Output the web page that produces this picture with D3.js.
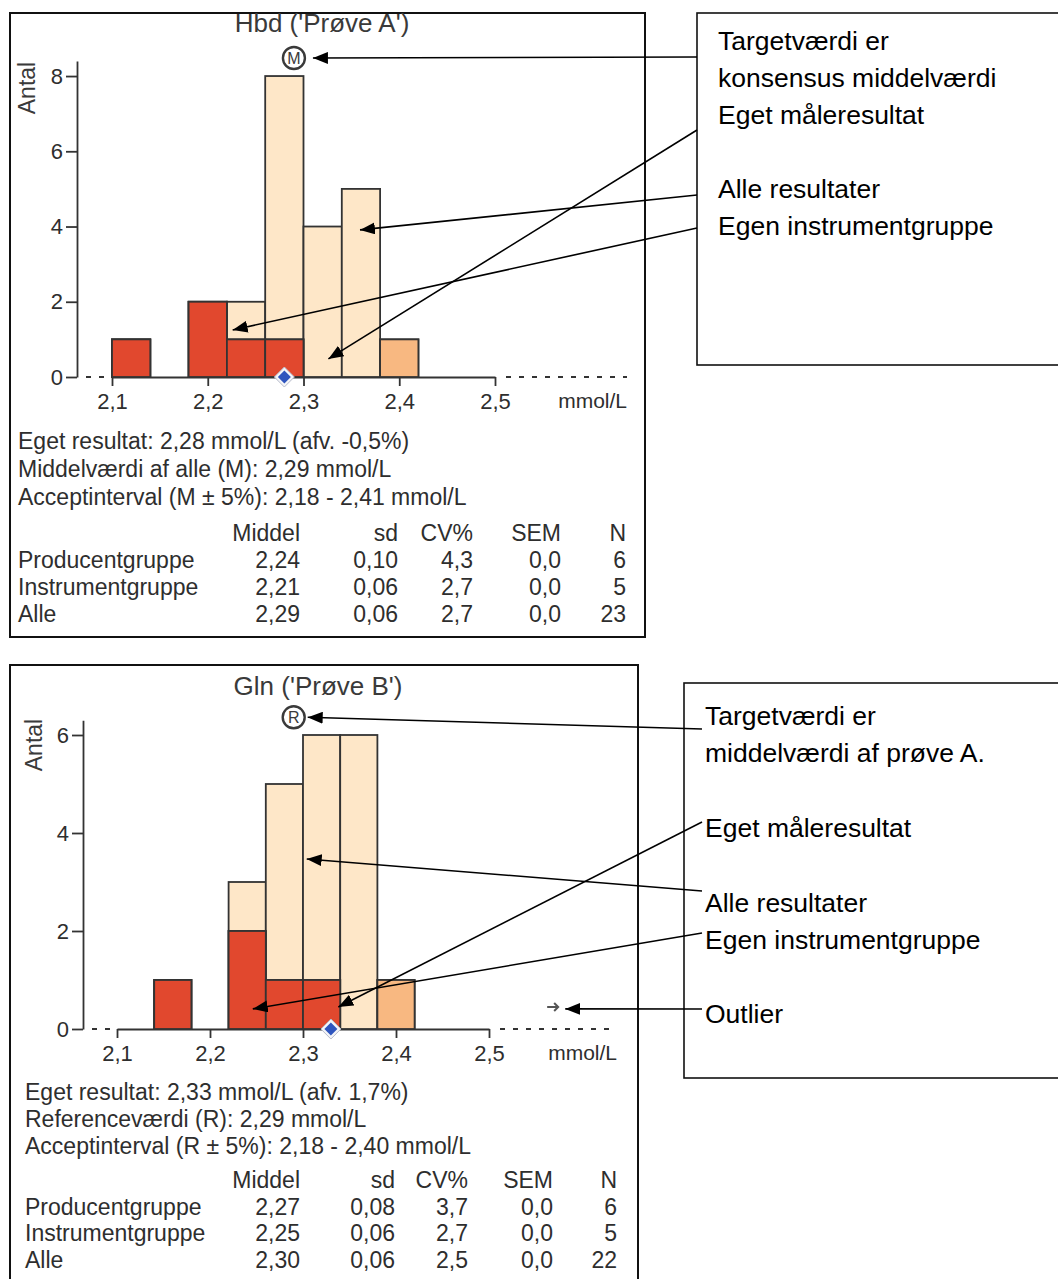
<!DOCTYPE html>
<html>
<head>
<meta charset="utf-8">
<script src="https://cdn.jsdelivr.net/npm/d3@7"></script>
<style>
  body { margin: 0; background: #fff; }
  svg text { font-family: "Liberation Sans", Arial, sans-serif; }
</style>
</head>
<body>
<div id="chart"></div>
<script>
const binWidth = 0.04;
const xTicks = [2.1, 2.2, 2.3, 2.4, 2.5];
const statHeader = ["Middel", "sd", "CV%", "SEM", "N"];
const statGroups = ["Producentgruppe", "Instrumentgruppe", "Alle"];

// Prøve A
const binsA = [2.10, 2.18, 2.22, 2.26, 2.30, 2.34, 2.38];
const allA = [1, 2, 2, 8, 4, 5, 1];
const producerA = [1, 2, 1, 1, 0, 0, 1];
const instrumentA = [1, 2, 1, 1, 0, 0, 0];
const yTicksA = [0, 2, 4, 6, 8];
const ownA = 2.28;
const targetA = 2.29;
const infoA = [
  "Eget resultat: 2,28 mmol/L (afv. -0,5%)",
  "Middelværdi af alle (M): 2,29 mmol/L",
  "Acceptinterval (M ± 5%): 2,18 - 2,41 mmol/L"
];
const meanA = [2.24, 2.21, 2.29];
const sdA = [0.10, 0.06, 0.06];
const cvA = [4.3, 2.7, 2.7];
const semA = [0.0, 0.0, 0.0];
const nA = [6, 5, 23];
const legendA = ["Targetværdi er", "konsensus middelværdi", "Eget måleresultat", "", "Alle resultater", "Egen instrumentgruppe"];
// arrow tips in data units (x = mmol/L, y = antal)
const tipsA = [[targetA, 8.4], [2.326, 0.48], [2.359, 3.91], [2.226, 1.25]];

// Prøve B
const binsB = [2.14, 2.22, 2.26, 2.30, 2.34, 2.38];
const allB = [1, 3, 5, 6, 6, 1];
const producerB = [1, 2, 1, 1, 0, 1];
const instrumentB = [1, 2, 1, 1, 0, 0];
const yTicksB = [0, 2, 4, 6];
const ownB = 2.33;
const targetB = 2.29;
const outlierB = [2.569, 0.45];
const infoB = [
  "Eget resultat: 2,33 mmol/L (afv. 1,7%)",
  "Referenceværdi (R): 2,29 mmol/L",
  "Acceptinterval (R ± 5%): 2,18 - 2,40 mmol/L"
];
const meanB = [2.27, 2.25, 2.30];
const sdB = [0.08, 0.06, 0.06];
const cvB = [3.7, 2.7, 2.5];
const semB = [0.0, 0.0, 0.0];
const nB = [6, 5, 22];
const legendB = ["Targetværdi er", "middelværdi af prøve A.", "", "Eget måleresultat", "", "Alle resultater", "Egen instrumentgruppe", "", "Outlier"];
const tipsB = [[targetB, 6.3], [2.338, 0.45], [2.304, 3.47], [2.246, 0.41], [2.582, 0.41]];

const colAll = "#fee7c8", colProducer = "#f8b881", colInstrument = "#e1482e";
const ink = "#333";
const textCol = "#2e2e2e";
const comma = (f) => (d) => d3.format(f)(d).replace(".", ",");

const svg = d3.select("#chart").append("svg")
  .attr("width", 1058)
  .attr("height", 1279);

svg.append("defs").append("marker")
  .attr("id", "head")
  .attr("markerUnits", "userSpaceOnUse")
  .attr("markerWidth", 15).attr("markerHeight", 12)
  .attr("refX", 15).attr("refY", 6)
  .attr("orient", "auto")
  .append("path").attr("d", "M0,0 L15,6 L0,12 z").attr("fill", "#000");

function drawPanel(p) {
  const g = svg.append("g");

  g.append("rect")
    .attr("x", p.box[0]).attr("y", p.box[1])
    .attr("width", p.box[2] - p.box[0]).attr("height", p.box[3] - p.box[1])
    .attr("fill", "none").attr("stroke", "#111").attr("stroke-width", 2);

  const x = d3.scaleLinear().domain([2.1, 2.5]).range(p.xRange);
  const yMax = d3.max(p.all) * 1.05;
  const y = d3.scaleLinear().domain([0, yMax]).range([p.y0, p.yTop]);

  g.append("text")
    .attr("x", p.titleX).attr("y", p.titleY)
    .attr("text-anchor", "middle")
    .attr("font-size", 26).attr("fill", "#3a3a3a")
    .text(p.title);

  g.append("text")
    .attr("transform", `translate(${p.antalX},${p.antalY}) rotate(-90)`)
    .attr("text-anchor", "middle")
    .attr("font-size", 23).attr("fill", "#3a3a3a")
    .text("Antal");

  // axes
  const yAxis = g.append("g")
    .attr("transform", `translate(${p.yAxisX},0)`)
    .call(d3.axisLeft(y).tickValues(p.yTicks).tickSize(11).tickSizeOuter(0).tickPadding(3)
      .tickFormat(d3.format("d")));
  const xAxis = g.append("g")
    .attr("transform", `translate(0,${p.y0})`)
    .call(d3.axisBottom(x).tickValues(xTicks).tickSize(9).tickSizeOuter(0).tickPadding(7)
      .tickFormat(comma(".1f")));
  [yAxis, xAxis].forEach(a => {
    a.attr("font-family", null).attr("font-size", null);
    a.selectAll("path, line").attr("stroke", ink).attr("stroke-width", 1.8);
    a.selectAll("text").attr("font-size", 22).attr("fill", textCol);
  });

  // dashed continuation of the baseline
  g.append("line")
    .attr("x1", p.yAxisX + 9).attr("x2", x(2.1))
    .attr("y1", p.y0).attr("y2", p.y0)
    .attr("stroke", ink).attr("stroke-width", 1.8).attr("stroke-dasharray", "5,8");
  g.append("line")
    .attr("x1", x(2.5) + 11).attr("x2", p.dashEnd)
    .attr("y1", p.y0).attr("y2", p.y0)
    .attr("stroke", ink).attr("stroke-width", 1.8).attr("stroke-dasharray", "5,8");

  g.append("text")
    .attr("x", p.dashEnd).attr("y", p.y0 + 31)
    .attr("text-anchor", "end")
    .attr("font-size", 21).attr("fill", textCol)
    .text("mmol/L");

  // stacked histogram: all, producer group, own instrument group
  const layers = [[p.all, colAll], [p.producer, colProducer], [p.instrument, colInstrument]];
  layers.forEach(([counts, col]) => {
    g.append("g").selectAll("rect")
      .data(p.bins.map((b, i) => ({ b, c: counts[i] })).filter(d => d.c > 0))
      .join("rect")
      .attr("x", d => x(d.b))
      .attr("width", d => x(d.b + binWidth) - x(d.b))
      .attr("y", d => y(d.c))
      .attr("height", d => p.y0 - y(d.c))
      .attr("fill", col)
      .attr("stroke", ink).attr("stroke-width", 1.8);
  });

  // own result
  const dx = x(p.own);
  g.append("path")
    .attr("d", `M${dx},${p.y0 - 10} L${dx + 10},${p.y0} L${dx},${p.y0 + 10} L${dx - 10},${p.y0} Z`)
    .attr("fill", "#f4f5f8").attr("stroke", "#b8bccb").attr("stroke-width", 1);
  g.append("path")
    .attr("d", `M${dx},${p.y0 - 6.5} L${dx + 6.5},${p.y0} L${dx},${p.y0 + 6.5} L${dx - 6.5},${p.y0} Z`)
    .attr("fill", "#2f55be");

  // target marker
  const cx = x(p.target), cy = y(yMax) - 3;
  g.append("circle")
    .attr("cx", cx).attr("cy", cy).attr("r", 11)
    .attr("fill", "#fff").attr("stroke", "#3a3a3a").attr("stroke-width", 2.4);
  g.append("text")
    .attr("x", cx).attr("y", cy + 5.8)
    .attr("text-anchor", "middle")
    .attr("font-size", 16).attr("fill", "#3a3a3a")
    .text(p.targetLetter);

  if (p.outlier) {
    const ox = x(p.outlier[0]), oy = y(p.outlier[1]);
    g.append("path")
      .attr("d", `M${ox - 6},${oy} H${ox + 5} M${ox + 1},${oy - 4} L${ox + 5},${oy} L${ox + 1},${oy + 4}`)
      .attr("fill", "none").attr("stroke", "#555").attr("stroke-width", 2);
  }

  // result text and statistics table
  g.selectAll(".info")
    .data(p.info)
    .join("text")
    .attr("x", p.textX)
    .attr("y", (d, i) => p.infoY + i * p.lineH)
    .attr("font-size", 23).attr("fill", textCol)
    .text(d => d);

  const fmts = [comma(".2f"), comma(".2f"), comma(".1f"), comma(".1f"), d3.format("d")];
  const cols = [p.mean, p.sd, p.cv, p.sem, p.n];
  statHeader.forEach((h, j) => {
    g.append("text")
      .attr("x", p.colX[j]).attr("y", p.headY)
      .attr("text-anchor", "end")
      .attr("font-size", 23).attr("fill", textCol)
      .text(h);
  });
  statGroups.forEach((name, i) => {
    const ry = p.headY + (i + 1) * p.rowH;
    g.append("text")
      .attr("x", p.textX).attr("y", ry)
      .attr("font-size", 23).attr("fill", textCol)
      .text(name);
    cols.forEach((c, j) => {
      g.append("text")
        .attr("x", p.colX[j]).attr("y", ry)
        .attr("text-anchor", "end")
        .attr("font-size", 23).attr("fill", textCol)
        .text(fmts[j](c[i]));
    });
  });

  // legend box
  g.append("rect")
    .attr("x", p.legBox[0]).attr("y", p.legBox[1])
    .attr("width", p.legBox[2] - p.legBox[0]).attr("height", p.legBox[3] - p.legBox[1])
    .attr("fill", "none").attr("stroke", "#111").attr("stroke-width", 1.6);
  g.selectAll(".leg")
    .data(p.legend)
    .join("text")
    .attr("x", p.legX)
    .attr("y", (d, i) => p.legY + i * p.legH)
    .attr("font-size", 26.5).attr("fill", "#000")
    .text(d => d);

  // annotation arrows
  p.tips.forEach((t, i) => {
    const tx = x(t[0]) + (i === 0 ? p.targetDx : 0);
    const ty = i === 0 ? cy : y(t[1]);
    g.append("line")
      .attr("x1", p.arrowFrom[i][0]).attr("y1", p.arrowFrom[i][1])
      .attr("x2", tx).attr("y2", ty)
      .attr("stroke", "#000").attr("stroke-width", 1.6)
      .attr("marker-end", "url(#head)");
  });
}

drawPanel({
  box: [10, 13, 645, 637],
  title: "Hbd ('Prøve A')", titleX: 322, titleY: 32,
  antalX: 35, antalY: 88,
  xRange: [112, 495], y0: 377, yTop: 61, yAxisX: 77, dashEnd: 627,
  bins: binsA, all: allA, producer: producerA, instrument: instrumentA,
  yTicks: yTicksA, own: ownA, target: targetA, targetLetter: "M",
  info: infoA, textX: 18, infoY: 449, lineH: 28,
  headY: 541, rowH: 27, colX: [300, 398, 473, 561, 626],
  mean: meanA, sd: sdA, cv: cvA, sem: semA, n: nA,
  legBox: [697, 13, 1062, 365], legend: legendA, legX: 718, legY: 50, legH: 37,
  tips: tipsA, targetDx: 19,
  arrowFrom: [[697, 57], [697, 130], [697, 195], [697, 228]]
});

drawPanel({
  box: [10, 665, 638, 1282],
  title: "Gln ('Prøve B')", titleX: 318, titleY: 695,
  antalX: 42, antalY: 745,
  xRange: [117, 489], y0: 1029, yTop: 720.3, yAxisX: 83, dashEnd: 617,
  bins: binsB, all: allB, producer: producerB, instrument: instrumentB,
  yTicks: yTicksB, own: ownB, target: targetB, targetLetter: "R",
  outlier: outlierB,
  info: infoB, textX: 25, infoY: 1100, lineH: 27,
  headY: 1188, rowH: 26.7, colX: [300, 395, 468, 553, 617],
  mean: meanB, sd: sdB, cv: cvB, sem: semB, n: nB,
  legBox: [684, 683, 1062, 1078], legend: legendB, legX: 705, legY: 725, legH: 37.3,
  tips: tipsB, targetDx: 14,
  arrowFrom: [[702, 729], [702, 822], [702, 891], [702, 933], [702, 1009]]
});
</script>
</body>
</html>
